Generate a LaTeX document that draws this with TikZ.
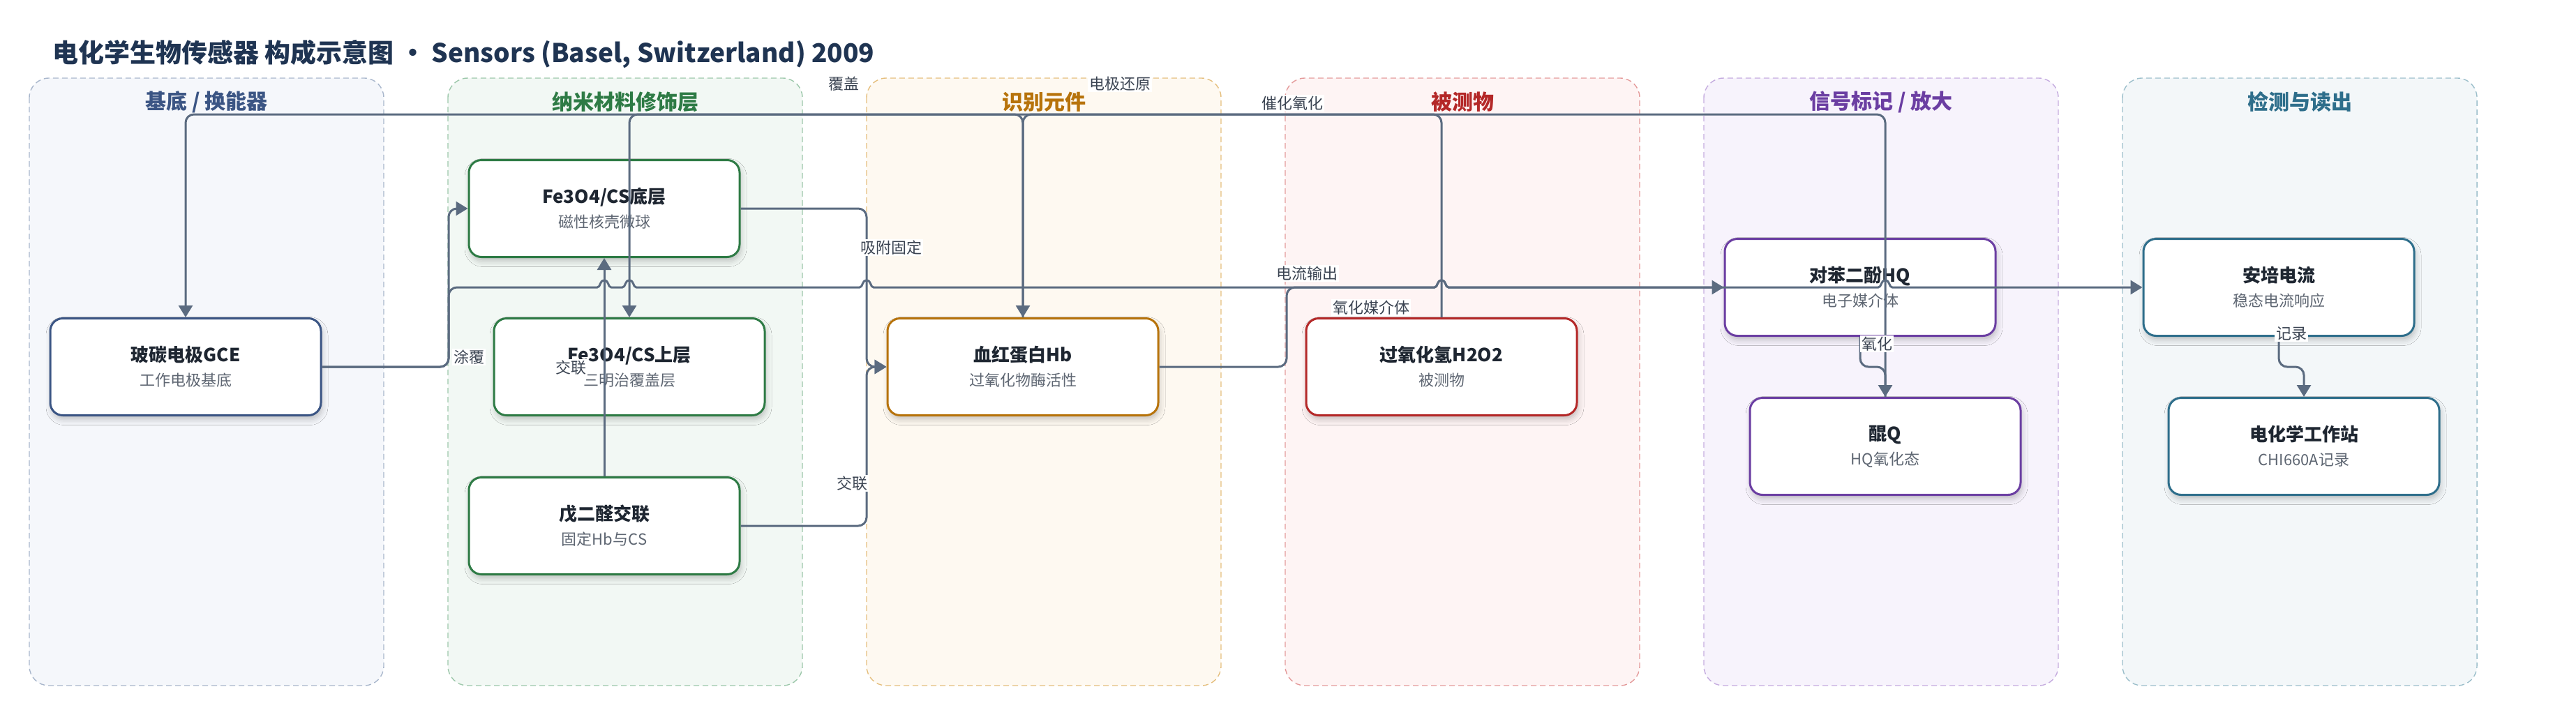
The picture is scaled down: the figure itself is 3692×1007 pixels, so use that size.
\documentclass[tikz,border=0pt]{standalone}
\usepackage{fontspec}
\setmainfont{Noto Sans CJK SC}
\usetikzlibrary{arrows.meta,shadows.blur}

\definecolor{linecol}{HTML}{5B6B80}
\definecolor{labelcol}{HTML}{3B4452}
\definecolor{headcol}{HTML}{1F3452}
\definecolor{maincol}{HTML}{1E2631}
\definecolor{subcol}{HTML}{5E6672}
\definecolor{bgA}{HTML}{F5F7FB}\definecolor{bdA}{HTML}{A9B7CC}\definecolor{hdA}{HTML}{3B5584}
\definecolor{bgB}{HTML}{F2F8F4}\definecolor{bdB}{HTML}{9DC8AB}\definecolor{hdB}{HTML}{2E7B45}
\definecolor{bgC}{HTML}{FEF9F1}\definecolor{bdC}{HTML}{E5BF7E}\definecolor{hdC}{HTML}{B7730B}
\definecolor{bgD}{HTML}{FEF4F4}\definecolor{bdD}{HTML}{E49B9B}\definecolor{hdD}{HTML}{B42828}
\definecolor{bgE}{HTML}{F7F3FC}\definecolor{bdE}{HTML}{C5ACDF}\definecolor{hdE}{HTML}{6B3EA2}
\definecolor{bgF}{HTML}{F3F7F9}\definecolor{bdF}{HTML}{9CBFCB}\definecolor{hdF}{HTML}{2E6E8B}

\newcommand\boxmain[1]{{\fontsize{13pt}{17.5pt}\selectfont\bfseries\color{maincol}#1}}
\newcommand\boxsub[1]{{\color{subcol}#1}}
% little jump where a wire crosses another one
\newcommand\hop[2]{-- ({#1-10},#2) .. controls ({#1-5},#2) and ({#1-7},{#2-10}) .. (#1,{#2-10}) .. controls ({#1+7},{#2-10}) and ({#1+5},#2) .. ({#1+10},#2)}

\tikzset{
  lanebox/.style={draw=#1, line width=0.7pt, dash pattern=on 4pt off 2.5pt, rounded corners=14pt},
  lanehead/.style={font=\fontsize{15pt}{18pt}\selectfont\bfseries, text=#1},
  unitbox/.style={draw=#1, fill=white, line width=1.5pt, rounded corners=9pt,
    minimum width=194pt, minimum height=69.5pt, align=center, inner sep=0pt,
    font=\fontsize{11pt}{17.5pt}\selectfont,
    blur shadow={shadow xshift=1pt, shadow yshift=-3pt, shadow blur radius=4pt, shadow opacity=22}},
  wire/.style={draw=linecol, line width=1.5pt, rounded corners=6pt},
  wirearrow/.style={-{Triangle[length=8.5pt,width=10pt]}},
  wirelabel/.style={fill=white, inner sep=1pt, text=labelcol, font=\fontsize{11pt}{13pt}\selectfont}
}

\begin{document}
\begin{tikzpicture}[x=0.5pt,y=-0.5pt]
\useasboundingbox (0,0) rectangle (3692,1007);

\node[anchor=west, inner sep=0pt, text=headcol, font=\fontsize{18.5pt}{22pt}\selectfont\bfseries] (title) at (75,78) {电化学生物传感器 构成示意图 • Sensors (Basel, Switzerland) 2009};

\draw[lanebox=bdA, fill=bgA] (42,112) rectangle (550,983); % lane.0
\draw[lanebox=bdB, fill=bgB] (642,112) rectangle (1150,983); % lane.1
\draw[lanebox=bdC, fill=bgC] (1242,112) rectangle (1750,983); % lane.2
\draw[lanebox=bdD, fill=bgD] (1842,112) rectangle (2350,983); % lane.3
\draw[lanebox=bdE, fill=bgE] (2442,112) rectangle (2950,983); % lane.4
\draw[lanebox=bdF, fill=bgF] (3042,112) rectangle (3550,983); % lane.5
\node[lanehead=hdA] (headA) at (296,146) {基底 / 换能器};
\node[lanehead=hdB] (headB) at (896,146) {纳米材料修饰层};
\node[lanehead=hdC] (headC) at (1496,146) {识别元件};
\node[lanehead=hdD] (headD) at (2096,146) {被测物};
\node[lanehead=hdE] (headE) at (2696,146) {信号标记 / 放大};
\node[lanehead=hdF] (headF) at (3296,146) {检测与读出};

\node[unitbox=hdA] (gce) at (266,526) {\boxmain{玻碳电极GCE}\\\boxsub{工作电极基底}};
\node[unitbox=hdB] (base) at (866,299) {\boxmain{Fe3O4/CS底层}\\\boxsub{磁性核壳微球}};
\node[unitbox=hdB] (upper) at (902,526) {\boxmain{Fe3O4/CS上层}\\\boxsub{三明治覆盖层}};
\node[unitbox=hdB] (glut) at (866,754) {\boxmain{戊二醛交联}\\\boxsub{固定Hb与CS}};
\node[unitbox=hdC] (hb) at (1466,526) {\boxmain{血红蛋白Hb}\\\boxsub{过氧化物酶活性}};
\node[unitbox=hdD] (h2o2) at (2066,526) {\boxmain{过氧化氢H2O2}\\\boxsub{被测物}};
\node[unitbox=hdE] (hq) at (2666,412) {\boxmain{对苯二酚HQ}\\\boxsub{电子媒介体}};
\node[unitbox=hdE] (quin) at (2702,640) {\boxmain{醌Q}\\\boxsub{HQ氧化态}};
\node[unitbox=hdF] (amp) at (3266,412) {\boxmain{安培电流}\\\boxsub{稳态电流响应}};
\node[unitbox=hdF] (ws) at (3302,640) {\boxmain{电化学工作站}\\\boxsub{CHI660A记录}};

\draw[wire,wirearrow] (gce.east) -- (643,526) -- (643,299) -- (base.west); % coat
\draw[wire,wirearrow] (gce.east) -- (643,526) -- (643,412) -- (700,412) [sharp corners] \hop{866}{412} \hop{902}{412} \hop{1242}{412} \hop{2066}{412} \hop{2702}{412} -- (amp.west); % current
\draw[wire,wirearrow] (base.east) -- (1242,299) -- (1242,526) -- (hb.west); % adsorb
\draw[wire,wirearrow] (glut.east) -- (1242,754) -- (1242,526) -- (hb.west); % link to Hb
\draw[wire,wirearrow] (glut.north) -- (base.south); % link to CS
\draw[wire,wirearrow] (hb.north) -- (1466,164) -- (902,164) -- (upper.north); % cover
\draw[wire,wirearrow] (h2o2.north) -- (2066,164) -- (1466,164) -- (hb.north); % catalyse
\draw[wire,wirearrow] (quin.north) -- (2702,164) -- (266,164) -- (gce.north); % reduce
\draw[wire,wirearrow] (hb.east) -- (1844,526) -- (1844,412) -- (1900,412) [sharp corners] \hop{2066}{412} -- (hq.west); % mediator
\draw[wire,wirearrow] (hq.south) -- (2666,526) -- (2702,526) -- (quin.north); % oxidise
\draw[wire,wirearrow] (amp.south) -- (3266,526) -- (3302,526) -- (ws.north); % record

\node[wirelabel] (lcover) at (1209,120) {覆盖};
\node[wirelabel] (lreduce) at (1605,120) {电极还原};
\node[wirelabel] (lcatal) at (1852,148) {催化氧化};
\node[wirelabel] (ladsorb) at (1277,355) {吸附固定};
\node[wirelabel] (lcurrent) at (1873,392) {电流输出};
\node[wirelabel] (lmediator) at (1965,441) {氧化媒介体};
\node[wirelabel] (lcoat) at (672,512) {涂覆};
\node[wirelabel] (llinkA) at (818,527) {交联};
\node[wirelabel] (llinkB) at (1221,693) {交联};
\node[wirelabel] (loxid) at (2690,493) {氧化};
\node[wirelabel] (lrecord) at (3284,478) {记录};
\end{tikzpicture}
\end{document}
